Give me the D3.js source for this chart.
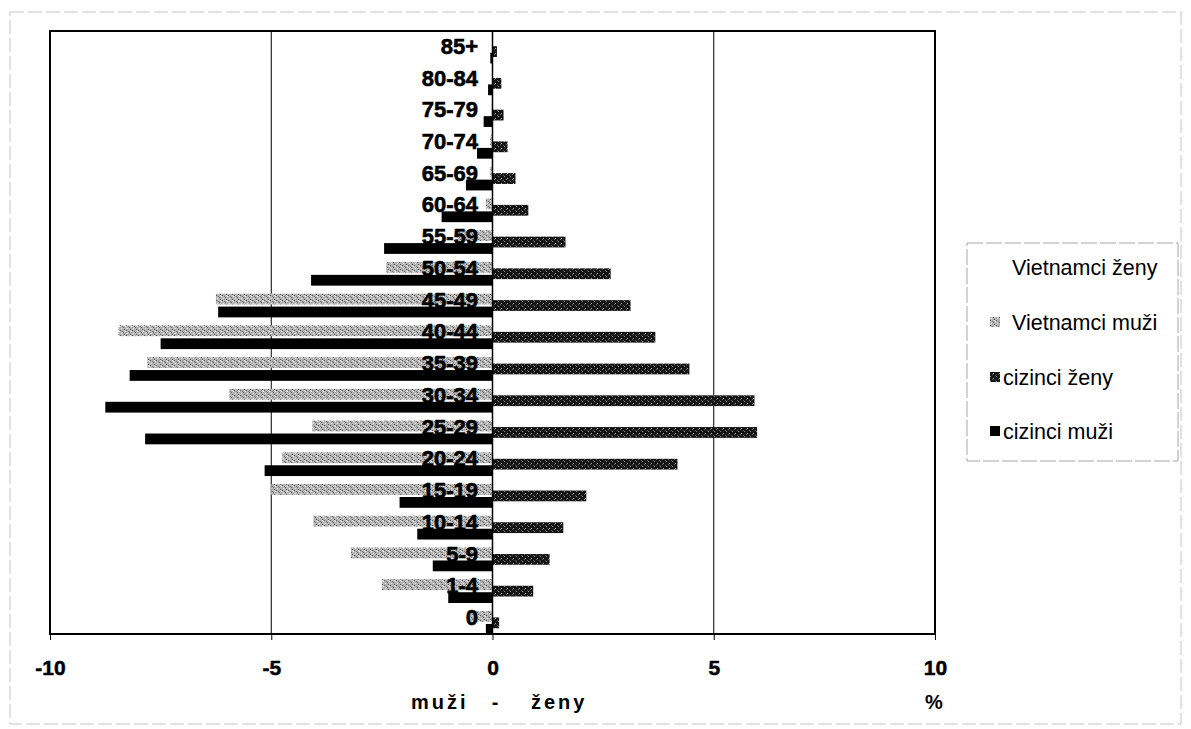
<!DOCTYPE html>
<html>
<head>
<meta charset="utf-8">
<script src="https://cdn.jsdelivr.net/npm/d3@7"></script>
<style>
  body { margin: 0; background: #fff; }
  svg { display: block; font-family: "Liberation Sans", Arial, sans-serif; }
</style>
</head>
<body>
<div id="chart"></div>
<script>
// age groups, bottom to top
var ages = ['0', '1-4', '5-9', '10-14', '15-19', '20-24', '25-29', '30-34', '35-39',
  '40-44', '45-49', '50-54', '55-59', '60-64', '65-69', '70-74', '75-79', '80-84', '85+'];

// % of population, men negative
var vietnamciZeny = [0.4, 2.3, 2.9, 3.6, 4.4, 4.6, 4.2, 4.5, 4.8, 4.6, 3.9, 1.7, 0.6, 0.2, 0.1, 0.05, 0.03, 0.02, 0.02];
var vietnamciMuzi = [-0.5, -2.5, -3.2, -4.05, -5.0, -4.75, -4.07, -5.95, -7.8, -8.45, -6.25, -2.4, -0.8, -0.15, -0.05, -0.05, -0.02, 0, 0];
var ciziniZeny   = [0.15, 0.92, 1.29, 1.6, 2.12, 4.18, 5.98, 5.92, 4.45, 3.68, 3.12, 2.67, 1.65, 0.81, 0.52, 0.34, 0.25, 0.2, 0.1];
var ciziniMuzi   = [-0.15, -1.0, -1.35, -1.7, -2.1, -5.15, -7.85, -8.75, -8.2, -7.5, -6.2, -4.1, -2.45, -1.15, -0.6, -0.35, -0.2, -0.1, -0.05];

var seriesNames = ['Vietnamci ženy', 'Vietnamci muži', 'cizinci ženy', 'cizinci muži'];
var xTicks = [-10, -5, 0, 5, 10];

var width = 1191, height = 729;
var plot = {left: 50, right: 935, top: 31, bottom: 634};

var svg = d3.select('#chart').append('svg')
  .attr('width', width)
  .attr('height', height);

// textures for the scanned hatch fills
var defs = svg.append('defs');
var pLight = defs.append('pattern').attr('id', 'pLight')
  .attr('width', 6).attr('height', 5).attr('patternUnits', 'userSpaceOnUse');
pLight.append('rect').attr('width', 6).attr('height', 5).attr('fill', '#b4b4b4');
[[0, 0, '#555'], [3, 2, '#666'], [1, 3, '#eee'], [4, 4, '#4a4a4a'], [5, 1, '#fff'], [2, 1, '#777'], [4, 0, '#ddd']].forEach(function(p) {
  pLight.append('rect').attr('x', p[0]).attr('y', p[1]).attr('width', 1).attr('height', 1).attr('fill', p[2]);
});
var pDark = defs.append('pattern').attr('id', 'pDark')
  .attr('width', 6).attr('height', 5).attr('patternUnits', 'userSpaceOnUse');
pDark.append('rect').attr('width', 6).attr('height', 5).attr('fill', '#161616');
[[0, 1, '#8a8a8a'], [3, 3, '#aaa'], [5, 0, '#555'], [2, 4, '#666'], [4, 2, '#000']].forEach(function(p) {
  pDark.append('rect').attr('x', p[0]).attr('y', p[1]).attr('width', 1).attr('height', 1).attr('fill', p[2]);
});

var fills = ['#ffffff', 'url(#pLight)', 'url(#pDark)', '#000'];

// outer frame of the chart area
svg.append('rect')
  .attr('x', 10).attr('y', 12).attr('width', 1171).attr('height', 712)
  .attr('fill', 'none').attr('stroke', '#c4c4c4').attr('stroke-dasharray', '14,4');

var x = d3.scaleLinear().domain([-10, 10]).range([plot.left, plot.right]);
var y = d3.scaleBand().domain(ages.slice().reverse()).range([plot.top, plot.bottom]);

var bw = y.bandwidth();
var barH = bw * 0.34;
var step = barH * 0.6;
var off0 = (bw - (barH + 3 * step)) / 2 + 1.5;
var sy = d3.scaleLinear().domain([0, 3]).range([off0, off0 + 3 * step]);

// gridlines
svg.append('g').selectAll('line')
  .data([-5, 5])
  .enter().append('line')
  .attr('x1', function(d) { return x(d); })
  .attr('x2', function(d) { return x(d); })
  .attr('y1', plot.top).attr('y2', plot.bottom)
  .attr('stroke', '#000').attr('stroke-width', 1);

var allSeries = [vietnamciZeny, vietnamciMuzi, ciziniZeny, ciziniMuzi];

allSeries.forEach(function(vals, si) {
  svg.append('g').selectAll('rect')
    .data(vals)
    .enter().append('rect')
    .attr('x', function(d) { return x(Math.min(0, d)); })
    .attr('width', function(d) { return Math.abs(x(d) - x(0)); })
    .attr('y', function(d, i) { return y(ages[i]) + sy(si); })
    .attr('height', barH)
    .attr('fill', fills[si]);
});

// category labels (sit on top of the bars, as in the scan)
svg.append('g').selectAll('text')
  .data(ages)
  .enter().append('text')
  .attr('x', 478)
  .attr('y', function(d) { return y(d) + bw / 2 - 1; })
  .attr('dy', '0.36em')
  .attr('text-anchor', 'end')
  .attr('font-size', '22px')
  .attr('font-weight', 'bold')
  .attr('stroke', '#000').attr('stroke-width', 0.6)
  .text(function(d) { return d; });

// zero axis
svg.append('line')
  .attr('x1', x(0)).attr('x2', x(0))
  .attr('y1', plot.top).attr('y2', plot.bottom)
  .attr('stroke', '#000').attr('stroke-width', 1.5);

// plot border
svg.append('rect')
  .attr('x', plot.left).attr('y', plot.top)
  .attr('width', plot.right - plot.left).attr('height', plot.bottom - plot.top)
  .attr('fill', 'none').attr('stroke', '#000').attr('stroke-width', 2);

// x axis
var xAxis = svg.append('g')
  .attr('transform', 'translate(0,' + plot.bottom + ')')
  .call(d3.axisBottom(x).tickValues(xTicks).tickSize(6).tickPadding(20)
    .tickFormat(function(d) { return String(d); }));
xAxis.select('.domain').remove();
xAxis.selectAll('line').attr('stroke', '#000');
xAxis.selectAll('text')
  .attr('font-size', '21px')
  .attr('font-weight', 'bold')
  .attr('font-family', '"Liberation Sans", Arial, sans-serif')
  .attr('stroke', '#000').attr('stroke-width', 0.5)
  .attr('fill', '#000');

// axis title
var titleFont = '20px';
svg.append('text')
  .attr('x', 411).attr('y', 709)
  .attr('font-size', titleFont).attr('font-weight', 'bold')
  .attr('letter-spacing', '3px')
  .text('muži');
svg.append('text')
  .attr('x', 495).attr('y', 709)
  .attr('text-anchor', 'middle')
  .attr('font-size', titleFont).attr('font-weight', 'bold')
  .text('-');
svg.append('text')
  .attr('x', 531).attr('y', 709)
  .attr('font-size', titleFont).attr('font-weight', 'bold')
  .attr('letter-spacing', '3px')
  .text('ženy');
svg.append('text')
  .attr('x', 934).attr('y', 709)
  .attr('text-anchor', 'middle')
  .attr('font-size', titleFont).attr('font-weight', 'bold')
  .text('%');

// legend
var legend = svg.append('g');
legend.append('rect')
  .attr('x', 967).attr('y', 243).attr('width', 211).attr('height', 218)
  .attr('fill', '#fff').attr('stroke', '#a8a8a8').attr('stroke-dasharray', '16,3');

var legendY = [267, 322, 377, 431];
var legendTextX = [1012, 1012, 1003, 1003];
seriesNames.forEach(function(name, i) {
  legend.append('rect')
    .attr('x', 990).attr('y', legendY[i] - 5)
    .attr('width', 10).attr('height', 10)
    .attr('fill', fills[i]);
  legend.append('text')
    .attr('x', legendTextX[i]).attr('y', legendY[i])
    .attr('dy', '0.36em')
    .attr('font-size', '21.5px')
    .text(name);
});
</script>
</body>
</html>
